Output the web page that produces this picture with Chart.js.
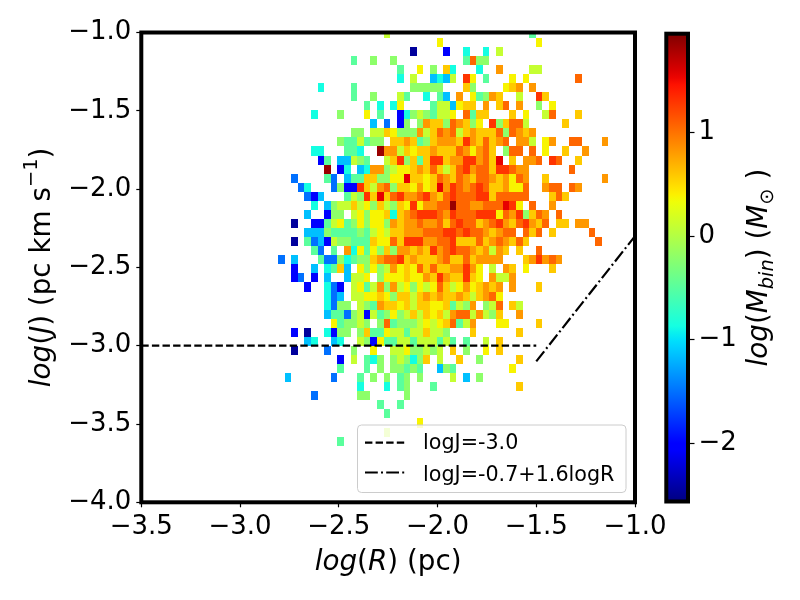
<!DOCTYPE html>
<html><head><meta charset="utf-8">
<script src="https://cdn.jsdelivr.net/npm/chart.js@4.4.0/dist/chart.umd.min.js"></script>
<style>html,body{margin:0;padding:0;background:#fff;}#wrap{position:relative;width:800px;height:600px;}canvas{position:absolute;left:0;top:0;}</style>
</head><body><div id="wrap"><canvas id="main" width="800" height="600"></canvas><canvas id="cbar" width="800" height="600"></canvas></div>
<script>
// ---- data ----
const xTicks = [-3.5, -3.0, -2.5, -2.0, -1.5, -1.0];
const yTicks = [-4.0, -3.5, -3.0, -2.5, -2.0, -1.5, -1.0];
const cbTicks = [-2, -1, 0, 1];
const cbRange = [-2.563, 1.955];
const binX0 = -2.808, binDX = 0.03347;   // histogram bin edges in log(R)
const binY0 = -0.975, binDY = 0.0579;    // histogram bin edges in log(J)
const levelCodes = 'NBbscaglyYoOrRD';
const levelValues = [-2.45, -2.02, -1.5, -1.15, -0.87, -0.49, -0.21, 0.1, 0.38, 0.58, 0.82, 1.06, 1.3, 1.55, 1.85];
// one string per histogram row (top to bottom): <column><level code>
const rowCells = [
"16l 38a",
"24y 39y",
"20N 25B 28c 31c 33l",
"11a 14g 17g 28a 29O 30g 31g",
"18a 21y 23g 25Y 26c 30c 33o 38l 39l",
"18c 20l 23s 24c 25s 26l 28r 29y 31a 35y 37y 45O",
"6c 11a 20g 21g 22g 23g 24g 28Y 29g 34y 35Y 36o 38o",
"11a 14g 18l 19a 22c 24a 25s 27o 29y 30a 31g 32o 33Y 36l 39r 40Y",
"13a 15c 17c 18y 23a 24l 25l 26s 27y 28Y 29Y 31o 33Y 34O 36o 39g 41y",
"5c 9g 13y 15a 18B 19c 20g 21l 22g 23a 24l 25l 26y 28O 29a 30Y 31Y 35Y 37y 40l 41O 45Y",
"14s 16b 18B 19g 21g 22o 23Y 24Y 25g 26O 27o 28Y 29g 30y 32r 33g 34Y 35O 36O 37l 43Y",
"11g 12g 14l 15l 16Y 17y 18g 19g 20g 21o 22l 23Y 24O 25o 26O 27l 28Y 29o 30Y 31Y 32Y 33O 34g 35O 36o 37Y 38o",
"9g 10a 11a 12l 13a 14g 15g 17Y 18Y 19o 20Y 21a 22g 23Y 24o 25o 26o 27Y 28r 29o 30Y 31O 32Y 33o 34O 36o 37o 38l 40y 41o 44O 45O 49o",
"5c 6c 10a 11a 12c 15D 16o 17o 18l 19Y 20y 21Y 22Y 23o 24Y 25Y 26Y 27O 28o 29y 30o 31O 32Y 34g 35O 36O 38O 40y 43Y 46o",
"6B 7a 9s 10s 11l 12g 13a 16l 17Y 18r 19g 20Y 21a 22Y 23r 24r 25Y 26o 27o 28r 29r 30o 31O 32Y 33R 35Y 37o 38o 39O 41r 42O 45Y",
"7D 9B 10c 12s 13c 14o 15o 16g 17l 18y 19y 20Y 21o 22Y 23O 24Y 25l 26Y 27O 28r 29o 30O 31O 32Y 33r 34r 35O 36o 37o 44O",
"2b 7a 8b 10s 11a 12a 13Y 14Y 15g 16g 17y 18y 19R 20Y 21Y 22y 23Y 24O 25o 26Y 27O 28o 29Y 30O 31O 32o 33Y 34o 35y 36O 37o 40Y 49o",
"3b 4c 8b 9g 10B 11B 12r 13Y 14l 15o 16O 17g 18Y 19Y 20y 21o 22y 23Y 24R 25o 26r 27O 28o 29O 30r 31O 32Y 33Y 34o 35y 36y 37O 40o 41O 42O 44O 45o",
"4b 5B 6s 10a 11l 12g 13r 14Y 15R 16Y 17O 18r 19o 20o 21O 22r 23o 24Y 25O 26r 27O 28O 29O 30r 31r 32Y 33O 34O 35O 36O 37O 41Y 42O 43Y",
"5c 7s 8g 9l 10l 11Y 12l 13y 14g 15Y 16l 17g 18Y 19y 20r 21y 22o 23o 24O 25O 26D 27O 28O 29o 30o 31O 32O 33O 34R 35r 36y 38O 41o",
"4s 7B 8g 9g 11l 12y 13g 14y 15y 16Y 17c 18Y 19o 20O 21r 22r 23r 24O 25o 26r 27O 28O 29O 30r 31r 32r 33y 34O 35o 36r 37g 38Y 39O 40o 42O",
"2N 5B 6B 7a 8l 9y 10a 11g 12y 13g 14y 15y 16g 17o 18Y 19o 20o 21O 22o 23o 24O 25Y 26O 27r 28O 29O 30Y 31o 32O 33r 34o 35Y 36O 37r 38o 39Y 40O 42Y 43Y 45o 46o",
"4s 5s 6s 7g 8a 9a 10a 11a 12g 13a 14l 15y 16l 17Y 18Y 19o 20o 21o 22O 23O 24O 25r 26r 27O 28r 29O 30O 31o 32Y 33o 34O 35O 37O 38Y 39O 41Y 47O",
"2N 4a 5b 6s 7B 8l 9g 10g 11a 12a 13a 14Y 15y 16y 17O 18Y 19r 20r 21r 22o 23o 24O 25O 26r 27Y 28Y 29Y 30O 31Y 32o 33O 34o 35Y 36O 37Y 48O",
"5a 6b 8a 10o 11c 12y 13a 14y 15g 16Y 17g 18o 19o 20Y 21o 22Y 23r 24o 25O 26r 27O 28O 29o 30Y 31o 32l 33o 34Y 36Y 39O",
"0b 2s 6a 7b 8b 9g 10c 11a 12g 13g 14Y 15o 16O 17O 18r 19Y 20o 21Y 22Y 23Y 24o 25O 26Y 27Y 28O 29Y 30o 31o 32o 33o 37Y 38o 39r 40o 41O 42o",
"2B 5s 7c 8a 9Y 10s 12y 13g 14y 15g 16l 17o 18y 19Y 20y 21O 22Y 23O 24Y 25Y 26o 27o 28r 29o 30y 32l 34o 35Y 37y 41Y",
"2B 3b 5B 7s 10s 11l 12l 13y 15g 16y 17y 18y 19Y 20y 21y 22o 23Y 24r 25o 26Y 27Y 28r 29Y 30y 32o 33l 34l 35o",
"4B 7c 8b 9B 11l 12y 13a 14l 15o 16g 17o 18l 19y 20g 21y 22l 23y 24O 25Y 26l 27y 28o 29y 30Y 31o 32Y 33o 35o 39Y",
"7c 8b 9s 11l 12l 13y 14y 15Y 16y 17g 18Y 19Y 20l 21Y 22o 23Y 24o 25Y 26Y 27o 28Y 29l 30Y 31o 32O 33y",
"7c 8b 9g 10g 12l 13g 14a 15o 16Y 17Y 18y 19Y 20l 21Y 22Y 23y 24y 25Y 26a 27l 28g 29o 31g 32l 33O 35Y 36l",
"7s 8a 9a 10b 11g 12l 13B 14l 15a 16g 17y 18g 19l 20Y 21l 22Y 23y 24Y 25l 26o 27O 28O 29l 30o 31l 32g 33Y 36o",
"8y 9a 10g 11g 12l 13g 15g 16O 17a 18g 19g 20g 21l 22y 23l 24y 25Y 26O 27a 28l 29o 33y 34y 39Y",
"2B 4N 7c 8B 9g 10g 12g 13Y 14a 15a 16y 17l 18l 19a 20l 21l 22Y 23l 24l 25g 29Y 36Y",
"4s 5c 8s 9c 12l 13g 14B 15y 16a 17a 18l 19l 20a 21l 22l 23l 24a 25l 26a 28a 31l 33Y",
"2N 7b 11g 14y 17l 18l 19y 20g 21g 22l 23g 24l 26Y 28g 31y 33Y",
"9B 11l 13a 14c 15g 17g 18l 19g 20c 21g 22Y 24l 27Y 30g 36Y",
"9a 13a 15g 17g 18g 19a 20g 21a 24s 25g 26a 35y",
"1s 8b 12a 14g 16g 18a 19g 21g 26l 28s 30g",
"12c 16c 18a 19g 23a 36Y",
"5b 12g 13g 19g",
"15a 18a",
"16a",
"21y",
"16l",
"9a"
];
const line1X = [-3.5, -1.5], line1Y = [-3.0, -3.0];
const line2X = [-1.5, -1.0], line2Y = [-3.1, -2.3];
const legendLabels = ['logJ=-3.0', 'logJ=-0.7+1.6logR'];

// ---- helpers ----
const FONT = '"DejaVu Sans", "Liberation Sans", sans-serif';
const jetSeg = {
  r: [[0,0],[0.35,0],[0.66,1],[0.89,1],[1,0.5]],
  g: [[0,0],[0.125,0],[0.375,1],[0.64,1],[0.91,0],[1,0]],
  b: [[0,0.5],[0.11,1],[0.34,1],[0.65,0],[1,0]]
};
function interp(seg, t) {
  for (let i = 1; i < seg.length; i++) {
    if (t <= seg[i][0]) {
      const [t0, v0] = seg[i-1], [t1, v1] = seg[i];
      return v0 + (v1 - v0) * (t - t0) / (t1 - t0);
    }
  }
  return seg[seg.length-1][1];
}
function jet(t) {
  t = Math.max(0, Math.min(1, t));
  return 'rgb(' + Math.round(255*interp(jetSeg.r,t)) + ',' + Math.round(255*interp(jetSeg.g,t)) + ',' + Math.round(255*interp(jetSeg.b,t)) + ')';
}
function valColor(v) { return jet((v - cbRange[0]) / (cbRange[1] - cbRange[0])); }
function fmt1(v) { return (v < 0 ? '\u2212' : '') + Math.abs(v).toFixed(1); }
function fmt0(v) { return (v < 0 ? '\u2212' : '') + Math.abs(v).toFixed(0); }

const cells = [];
rowCells.forEach((s, r) => {
  const re = /(\d+)([A-Za-z])/g; let m;
  while ((m = re.exec(s))) cells.push({ c: +m[1], r: r, v: levelValues[levelCodes.indexOf(m[2])] });
});

function richText(ctx, parts, cx, cy, rot, size) {
  ctx.save();
  ctx.translate(cx, cy); ctx.rotate(rot);
  const fontOf = p => (p.it ? 'italic ' : '') + (size * (p.s || 1)).toFixed(2) + 'px ' + FONT;
  let total = 0; const w = [];
  parts.forEach(p => { ctx.font = fontOf(p); const m = ctx.measureText(p.t).width; w.push(m); total += m; });
  let x = -total / 2;
  ctx.fillStyle = '#000'; ctx.textBaseline = 'alphabetic'; ctx.textAlign = 'left';
  parts.forEach((p, i) => { ctx.font = fontOf(p); ctx.fillText(p.t, x, -(p.dy || 0) * size); x += w[i]; });
  ctx.restore();
}

// ---- main chart plugins ----
const heatmapPlugin = {
  id: 'heatmap',
  beforeDatasetsDraw(chart) {
    const { ctx, chartArea: a, scales: { x: X, y: Y } } = chart;
    ctx.save();
    ctx.beginPath(); ctx.rect(a.left, a.top, a.right - a.left, a.bottom - a.top); ctx.clip();
    cells.forEach(cell => {
      const x0 = Math.round(X.getPixelForValue(binX0 + cell.c * binDX));
      const x1 = Math.round(X.getPixelForValue(binX0 + (cell.c + 1) * binDX));
      const y0 = Math.round(Y.getPixelForValue(binY0 - cell.r * binDY));
      const y1 = Math.round(Y.getPixelForValue(binY0 - (cell.r + 1) * binDY));
      ctx.fillStyle = valColor(cell.v);
      ctx.fillRect(x0, y0, x1 - x0, y1 - y0);
    });
    ctx.restore();
  }
};
const framePlugin = {
  id: 'frame',
  afterDatasetsDraw(chart) {
    const { ctx, chartArea: a } = chart;
    ctx.save();
    ctx.strokeStyle = '#000'; ctx.lineWidth = 4; ctx.lineJoin = 'miter';
    ctx.strokeRect(a.left, a.top, a.right - a.left, a.bottom - a.top);
    // legend
    const bx = 357.5, by = 425, bw = 268.5, bh = 67.5, rad = 4;
    ctx.beginPath();
    ctx.moveTo(bx + rad, by); ctx.lineTo(bx + bw - rad, by); ctx.quadraticCurveTo(bx + bw, by, bx + bw, by + rad);
    ctx.lineTo(bx + bw, by + bh - rad); ctx.quadraticCurveTo(bx + bw, by + bh, bx + bw - rad, by + bh);
    ctx.lineTo(bx + rad, by + bh); ctx.quadraticCurveTo(bx, by + bh, bx, by + bh - rad);
    ctx.lineTo(bx, by + rad); ctx.quadraticCurveTo(bx, by, bx + rad, by); ctx.closePath();
    ctx.fillStyle = 'rgba(255,255,255,0.8)'; ctx.fill();
    ctx.strokeStyle = '#cccccc'; ctx.lineWidth = 1; ctx.stroke();
    const textY = [449, 480.5], sampleY = [442.7, 472.5];
    chart.data.datasets.forEach((ds, i) => {
      ctx.beginPath(); ctx.setLineDash(ds.borderDash); ctx.lineWidth = ds.borderWidth; ctx.strokeStyle = ds.borderColor;
      ctx.moveTo(365, sampleY[i]); ctx.lineTo(406.5, sampleY[i]); ctx.stroke();
      ctx.setLineDash([]);
      ctx.fillStyle = '#000'; ctx.font = '20.7px ' + FONT; ctx.textBaseline = 'alphabetic'; ctx.textAlign = 'left';
      ctx.fillText(ds.label, 423, textY[i]);
    });
    ctx.restore();
  },
  afterDraw(chart) {
    const { ctx, chartArea: a } = chart;
    richText(ctx, [{t:'log', it:1}, {t:'('}, {t:'R', it:1}, {t:')'}, {t:' (pc)'}], (a.left + a.right) / 2, 570, 0, 27.8);
    richText(ctx, [{t:'log', it:1}, {t:'('}, {t:'J', it:1}, {t:')'}, {t:' (pc km s'}, {t:'\u22121', s:0.7, dy:0.45}, {t:')'}], 50, (a.top + a.bottom) / 2, -Math.PI / 2, 27.8);
  }
};

const tickFont = { family: FONT, size: 26 };
new Chart(document.getElementById('main'), {
  type: 'scatter',
  data: {
    datasets: [
      { label: legendLabels[0], data: line1X.map((x, i) => ({ x: x, y: line1Y[i] })), showLine: true,
        borderColor: '#000', borderWidth: 2.2, borderDash: [7.4, 3.2], pointRadius: 0, fill: false },
      { label: legendLabels[1], data: line2X.map((x, i) => ({ x: x, y: line2Y[i] })), showLine: true,
        borderColor: '#000', borderWidth: 2.2, borderDash: [12.8, 3.2, 2, 3.2], pointRadius: 0, fill: false }
    ]
  },
  options: {
    responsive: false, devicePixelRatio: 1, animation: false,
    layout: { padding: { left: 0, top: 32.5, right: 165, bottom: 0 } },
    plugins: { legend: { display: false }, tooltip: { enabled: false } },
    scales: {
      x: {
        type: 'linear', min: -3.5, max: -1.0,
        afterBuildTicks: s => { s.ticks = xTicks.map(v => ({ value: v })); },
        afterFit: s => { s.height = 97.7; },
        ticks: { font: tickFont, color: '#000', padding: 4, maxRotation: 0, autoSkip: false, callback: v => fmt1(v) },
        grid: { drawOnChartArea: false, tickLength: 5, tickWidth: 1.2, tickColor: '#000' },
        border: { display: false }
      },
      y: {
        type: 'linear', min: -4.0, max: -1.0,
        afterBuildTicks: s => { s.ticks = yTicks.map(v => ({ value: v })); },
        afterFit: s => { s.width = 141.3; },
        ticks: { font: tickFont, color: '#000', padding: 5, autoSkip: false, callback: v => fmt1(v) },
        grid: { drawOnChartArea: false, tickLength: 5, tickWidth: 1.2, tickColor: '#000' },
        border: { display: false }
      }
    }
  },
  plugins: [heatmapPlugin, framePlugin]
});

// ---- colorbar ----
const cbPlugin = {
  id: 'cbframe',
  afterDatasetsDraw(chart) {
    const { ctx, chartArea: a } = chart;
    ctx.save(); ctx.strokeStyle = '#000'; ctx.lineWidth = 4;
    ctx.strokeRect(a.left, a.top, a.right - a.left, a.bottom - a.top);
    ctx.restore();
  },
  afterDraw(chart) {
    const { ctx, chartArea: a } = chart;
    richText(ctx, [{t:'log', it:1}, {t:'('}, {t:'M', it:1}, {t:'bin', it:1, s:0.7, dy:-0.22}, {t:')'}, {t:' ('}, {t:'M', it:1}, {t:'\u2299', s:0.7, dy:-0.22}, {t:' )'}], 767, (a.top + a.bottom) / 2, -Math.PI / 2, 27.8);
  }
};
new Chart(document.getElementById('cbar'), {
  type: 'bar',
  data: {
    labels: ['cb'],
    datasets: [{
      data: [cbRange], barPercentage: 1, categoryPercentage: 1, borderWidth: 0,
      backgroundColor: c => {
        const ca = c.chart.chartArea; if (!ca) return '#fff';
        const g = c.chart.ctx.createLinearGradient(0, ca.bottom, 0, ca.top);
        for (let i = 0; i <= 64; i++) g.addColorStop(i / 64, jet(i / 64));
        return g;
      }
    }]
  },
  options: {
    responsive: false, devicePixelRatio: 1, animation: false,
    layout: { padding: { left: 666.3, top: 33.7, right: 0, bottom: 98.5 } },
    plugins: { legend: { display: false }, tooltip: { enabled: false } },
    scales: {
      x: { display: false },
      y: {
        position: 'right', min: cbRange[0], max: cbRange[1],
        afterBuildTicks: s => { s.ticks = cbTicks.map(v => ({ value: v })); },
        afterFit: s => { s.width = 112; },
        ticks: { font: tickFont, color: '#000', padding: 4, autoSkip: false, callback: v => fmt0(v) },
        grid: { drawOnChartArea: false, tickLength: 6.5, tickWidth: 1.2, tickColor: '#000' },
        border: { display: false }
      }
    }
  },
  plugins: [cbPlugin]
});
</script></body></html>
